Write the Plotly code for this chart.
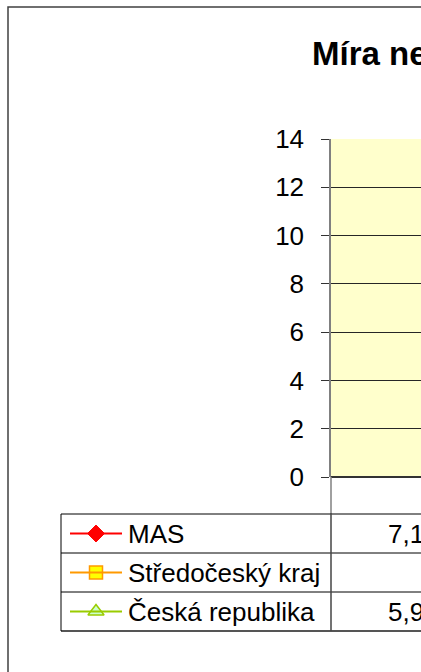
import plotly.graph_objects as go

# ---- data (only the first column of the table is visible in the reference) ----
categories = ["2008"]
mas = [7.14]
stredocesky = [None]
ceska_rep = [5.96]
series_names = ["MAS", "Středočeský kraj", "Česká republika"]
y_ticks = [0, 2, 4, 6, 8, 10, 12, 14]
title_text = "Míra nezaměstnanosti"

W, H = 421, 672
FONT = "Liberation Sans, Arial, sans-serif"


def px(x):
    return x / W


def py(y):
    return 1 - y / H


fig = go.Figure()

series = [
    (series_names[0], mas, dict(line=dict(color="#FF0000", width=2),
                               marker=dict(symbol="diamond", size=13, color="#FF0000",
                                           line=dict(color="#FF0000", width=1)))),
    (series_names[1], stredocesky, dict(line=dict(color="#FF9900", width=2),
                                       marker=dict(symbol="square", size=13, color="#FFFF00",
                                                   line=dict(color="#FF9900", width=1.5)))),
    (series_names[2], ceska_rep, dict(line=dict(color="#99CC00", width=2),
                                     marker=dict(symbol="triangle-up", size=14, color="#CCFFCC",
                                                 line=dict(color="#99CC00", width=1.5)))),
]

for name, vals, st in series:
    fig.add_trace(go.Scatter(x=list(range(len(categories))), y=vals, name=name,
                             mode="lines+markers", showlegend=False, cliponaxis=True, **st))

# plot area: x 331..(beyond right edge), y 139..477
plot_left, plot_top, plot_bottom = 331, 139, 477
col_width = 218  # width of one category column in px (the chart continues off-screen)
vis_w = W - plot_left
fig.update_xaxes(domain=[px(plot_left), 1], range=[-0.5, -0.5 + vis_w / col_width],
                 showticklabels=False, showgrid=False, zeroline=False,
                 showline=False, ticks="", automargin=False)
fig.update_yaxes(domain=[py(plot_bottom), py(plot_top)], range=[0, 14],
                 tickvals=y_ticks, ticktext=[str(v) for v in y_ticks],
                 tickfont=dict(family=FONT, size=26, color="black"),
                 ticks="outside", ticklen=8, tickcolor="#333333", tickwidth=1,
                 ticklabelstandoff=12, automargin=False,
                 showgrid=True, gridcolor="#262626", gridwidth=1,
                 zeroline=True, zerolinecolor="#333333", zerolinewidth=1.5,
                 showline=True, linecolor="#808080", linewidth=1.5)

# overlay axes in pixel coordinates for the legend keys of the data table
fig.update_layout(
    xaxis2=dict(domain=[0, 1], range=[0, W], visible=False, fixedrange=True, automargin=False),
    yaxis2=dict(domain=[0, 1], range=[H, 0], visible=False, fixedrange=True, automargin=False),
)

row_lines = [514, 553, 592, 631]
row_centers = [(row_lines[i] + row_lines[i + 1]) / 2 for i in range(3)]
table_left = 61
key_x0, key_x1, key_mid = 70, 122, 96

shapes = []
# outer chart border (continues beyond the window)
shapes.append(dict(type="rect", xref="paper", yref="paper", x0=px(8), x1=px(W + 60),
                   y0=py(H + 60), y1=py(7), line=dict(color="#404040", width=1.5),
                   fillcolor="rgba(0,0,0,0)", layer="above"))
# plot area background
shapes.append(dict(type="rect", xref="paper", yref="paper", x0=px(plot_left), x1=px(W + 20),
                   y0=py(plot_bottom), y1=py(plot_top), fillcolor="#FFFFCC",
                   line=dict(width=0), layer="below"))
# axis line extension down to the table
shapes.append(dict(type="line", xref="paper", yref="paper", x0=px(plot_left), x1=px(plot_left),
                   y0=py(plot_bottom), y1=py(row_lines[0]), line=dict(color="#808080", width=1.5)))
# table grid
for i, yl in enumerate(row_lines):
    col = "#000000" if i < 3 else "#555555"
    wdt = 1 if i < 3 else 2
    shapes.append(dict(type="line", xref="paper", yref="paper", x0=px(table_left), x1=px(W + 20),
                       y0=py(yl), y1=py(yl), line=dict(color=col, width=wdt)))
shapes.append(dict(type="line", xref="paper", yref="paper", x0=px(table_left), x1=px(table_left),
                   y0=py(row_lines[0]), y1=py(row_lines[-1]), line=dict(color="#000000", width=1)))
shapes.append(dict(type="line", xref="paper", yref="paper", x0=px(plot_left), x1=px(plot_left),
                   y0=py(row_lines[0]), y1=py(row_lines[-1]), line=dict(color="#444444", width=1.5)))

annotations = [dict(text="<b>" + title_text + "</b>", xref="paper", yref="paper",
                    x=px(310), y=py(53), xanchor="left", yanchor="middle", showarrow=False,
                    font=dict(family=FONT, size=33, color="black"))]

# left edge of the value text inside its category column, in category units
value_offset = -0.5 + (386 - plot_left) / col_width

for (name, vals, st), yc in zip(series, row_centers):
    # legend key line
    shapes.append(dict(type="line", xref="paper", yref="paper", x0=px(key_x0), x1=px(key_x1),
                       y0=py(yc), y1=py(yc), line=dict(color=st["line"]["color"], width=2)))
    # legend key marker
    fig.add_trace(go.Scatter(x=[key_mid], y=[yc], xaxis="x2", yaxis="y2", mode="markers",
                             marker=st["marker"], showlegend=False, hoverinfo="skip"))
    annotations.append(dict(text=name, xref="paper", yref="paper", x=px(126), y=py(yc),
                            xanchor="left", yanchor="middle", showarrow=False,
                            font=dict(family=FONT, size=26, color="black")))
    # table values from the data
    for i, v in enumerate(vals):
        if v is None:
            continue
        annotations.append(dict(text=f"{v:.2f}".replace(".", ","), xref="x", yref="paper",
                                x=i + value_offset, y=py(yc), xanchor="left", yanchor="middle",
                                showarrow=False,
                                font=dict(family=FONT, size=26, color="black")))

fig.update_layout(width=W, height=H, autosize=False, margin=dict(l=0, r=0, t=0, b=0, pad=0),
                  paper_bgcolor="white", plot_bgcolor="rgba(0,0,0,0)",
                  shapes=shapes, annotations=annotations,
                  font=dict(family=FONT))

post = ("document.documentElement.style.margin='0';document.body.style.margin='0';"
        "document.body.style.padding='0';document.documentElement.style.overflow='hidden';"
        "document.body.style.overflow='hidden';"
        "Plotly.relayout('{plot_id}', {width: 421, height: 672});")

fig.write_html("out.html", post_script=post, config={"displayModeBar": False})
